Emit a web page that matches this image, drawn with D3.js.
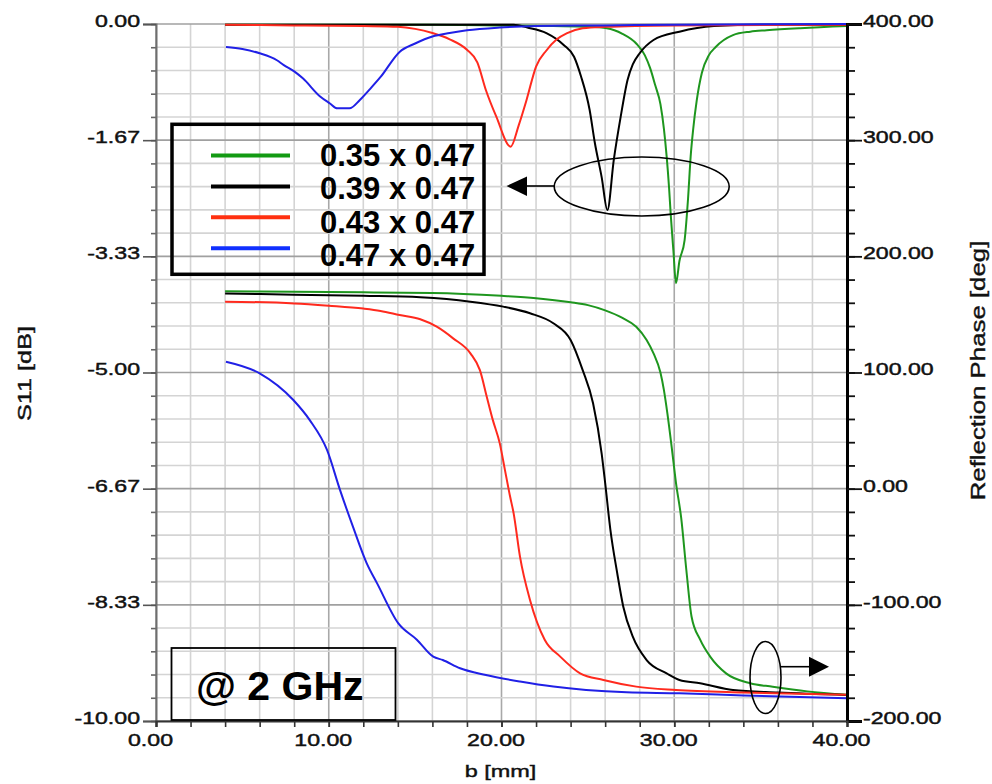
<!DOCTYPE html>
<html>
<head>
<meta charset="utf-8">
<script src="https://cdn.jsdelivr.net/npm/d3@7"></script>
<style>
  html, body { margin: 0; padding: 0; background: #fff; }
  svg { display: block; font-family: "Liberation Sans", Arial, sans-serif; }
</style>
</head>
<body>
<svg id="chart" width="992" height="784"></svg>
<script>
// Reflection magnitude (dB) versus b (mm), one array per patch size
const s11Green = [[4,-0.01],[8,-0.01],[12,-0.01],[16,-0.01],[20,-0.02],[23,-0.03],[25,-0.04],[26.1,-0.06],[27.0,-0.14],[27.8,-0.28],[28.3,-0.45],[28.6,-0.63],[28.9,-0.88],[29.2,-1.15],[29.4,-1.5],[29.56,-1.9],[29.7,-2.35],[29.8,-2.75],[29.95,-3.25],[30.1,-3.72],[30.3,-3.4],[30.6,-3.1],[30.8,-2.5],[30.95,-1.9],[31.1,-1.5],[31.3,-1.1],[31.6,-0.7],[32.0,-0.45],[32.4,-0.33],[33.4,-0.16],[34.4,-0.11],[35.35,-0.09],[37.3,-0.06],[40,-0.03]];
const s11Black = [[4,-0.01],[10,-0.01],[16,-0.01],[20.7,-0.01],[21.5,-0.05],[22.6,-0.13],[23.6,-0.3],[24.2,-0.47],[24.6,-0.75],[25.1,-1.23],[25.4,-1.7],[25.8,-2.2],[26.13,-2.67],[26.5,-1.95],[26.9,-1.33],[27.3,-0.8],[27.6,-0.58],[28.0,-0.42],[28.8,-0.23],[30.3,-0.11],[32.3,-0.03],[35,-0.01],[40,-0.01]];
const s11Red = [[4,-0.01],[8,-0.02],[12,-0.03],[14,-0.04],[15,-0.07],[16,-0.13],[17,-0.22],[18,-0.37],[18.6,-0.55],[19.1,-0.95],[19.7,-1.33],[20.53,-1.76],[21.0,-1.45],[21.45,-1.09],[22.0,-0.61],[22.6,-0.38],[23.2,-0.22],[23.8,-0.13],[24.7,-0.06],[26,-0.04],[30,-0.02],[40,-0.01]];
const s11Blue = [[4.05,-0.33],[5,-0.36],[6,-0.42],[7,-0.52],[7.4,-0.59],[8,-0.68],[8.5,-0.78],[9.5,-1.04],[10.07,-1.14],[10.5,-1.21],[11.2,-1.21],[11.8,-1.09],[12.4,-0.93],[13,-0.76],[14.1,-0.4],[15,-0.28],[16,-0.18],[17,-0.13],[18,-0.09],[19.9,-0.05],[22,-0.03],[26,-0.02],[30,-0.01],[40,0]];

// Reflection phase (deg) versus b (mm)
const phaseGreen = [[4,170],[8,169.5],[12,169],[16,168.5],[20,166],[22,164],[24,160.5],[25,158],[26,153.5],[27,147],[27.8,139.4],[28.4,128],[28.8,116.5],[29.2,100],[29.4,85],[29.6,65],[29.85,36],[30.1,5],[30.4,-25],[30.7,-70],[31.0,-110],[31.5,-130],[32.1,-145],[33.0,-159],[34.4,-167.5],[35.7,-170.5],[37.7,-174.5],[40,-177.5]];
const phaseBlack = [[4,168],[8,167],[12,166],[15.3,164.7],[18.2,161],[20.1,156.7],[21.65,151],[23.0,142.4],[24.0,128],[24.7,102],[25.3,73.5],[25.8,30],[26.0,5],[26.3,-35],[26.7,-72.8],[27.05,-101.6],[27.6,-127.4],[28.4,-147.5],[29.56,-159],[30.3,-164.7],[31.5,-167.5],[33.4,-173.3],[36,-175.5],[40,-177.6]];
const phaseRed = [[4,161],[8,159.5],[10,157.5],[12,155],[13,153],[14.1,149.5],[15.3,145.8],[16.25,139.4],[17.2,129.4],[18.2,116.5],[18.75,102],[19.15,79],[19.5,59],[19.9,39],[20.2,16],[20.5,-7],[20.7,-21],[21.07,-58.5],[21.65,-95.8],[22.5,-130],[23.4,-144.6],[24.55,-159],[25.9,-164.7],[27.8,-170.4],[30.1,-173.3],[34,-175.5],[40,-177.5]];
const phaseBlue = [[4.05,109.3],[6.0,99.3],[7.95,76.3],[8.9,59],[9.9,33.3],[10.65,-1],[11.4,-32.7],[12.2,-64.3],[12.8,-81.5],[14.03,-116],[15.1,-130],[16.05,-144.6],[16.6,-147.5],[17.6,-154.6],[19.1,-160.4],[21.07,-166],[23.0,-170.4],[24.9,-173.3],[27.25,-175.3],[30.3,-176.1],[34,-178],[40,-180.4]];

// Legend entries and axis tick labels
const sizeLabels = ["0.35 x 0.47", "0.39 x 0.47", "0.43 x 0.47", "0.47 x 0.47"];
const xTickLabels = ["0.00", "10.00", "20.00", "30.00", "40.00"];
const leftTickLabels = ["0.00", "-1.67", "-3.33", "-5.00", "-6.67", "-8.33", "-10.00"];
const rightTickLabels = ["400.00", "300.00", "200.00", "100.00", "0.00", "-100.00", "-200.00"];
const frequencyLabel = "@ 2 GHz";

const curveColors = ["#1e961e", "#000000", "#ff2a1e", "#2020e6"];
const legendColors = ["#139a13", "#000000", "#ff3010", "#1030ff"];

const svg = d3.select("#chart");

const x = d3.scaleLinear().domain([0, 40]).range([156, 847]);
const yL = d3.scaleLinear().domain([-10, 0]).range([721, 24]);
const yR = d3.scaleLinear().domain([-200, 400]).range([721, 24]);

// Grid: every 2 mm vertically, five minor steps per labelled interval horizontally
const grid = svg.append("g");
d3.range(0, 41, 2).forEach(v => {
  grid.append("line")
    .attr("x1", x(v)).attr("x2", x(v)).attr("y1", yL(0)).attr("y2", yL(-10))
    .attr("stroke", v % 10 === 0 ? "#a8a8a8" : "#d4d4d4").attr("stroke-width", 1.6);
});
d3.range(31).forEach(i => {
  const v = -i / 3;
  grid.append("line")
    .attr("x1", x(0)).attr("x2", x(40)).attr("y1", yL(v)).attr("y2", yL(v))
    .attr("stroke", i % 5 === 0 ? "#a0a0a0" : "#d4d4d4").attr("stroke-width", 1.6);
});

// Curves
const lineL = d3.line().x(d => x(d[0])).y(d => yL(d[1])).curve(d3.curveMonotoneX);
const lineR = d3.line().x(d => x(d[0])).y(d => yR(d[1])).curve(d3.curveMonotoneX);
const phaseSeries = [phaseGreen, phaseBlack, phaseRed, phaseBlue];
const s11Series = [s11Green, s11Black, s11Red, s11Blue];

svg.append("g").selectAll("path").data(phaseSeries).join("path")
  .attr("d", lineR).attr("fill", "none")
  .attr("stroke", (d, i) => curveColors[i]).attr("stroke-width", 2);
svg.append("g").selectAll("path").data(s11Series).join("path")
  .attr("d", lineL).attr("fill", "none")
  .attr("stroke", (d, i) => curveColors[i]).attr("stroke-width", 2);

// Axes
const tickFont = 17, stretch = 1.36;
const leftVals = d3.range(7).map(i => -10 * i / 6);
const rightVals = d3.range(7).map(i => 400 - 100 * i);
const xVals = [0, 10, 20, 30, 40];

const styleLabels = sel => sel
  .attr("font-size", tickFont).attr("font-family", "Liberation Sans, Arial, sans-serif")
  .attr("fill", "#111").attr("stroke", "#111").attr("stroke-width", 0.45);

// minor ticks
svg.append("g").attr("transform", `translate(${x(0)},0)`)
  .call(d3.axisLeft(yL).tickValues(d3.range(31).map(i => -i / 3)).tickSize(5).tickFormat(""))
  .call(g => g.select(".domain").remove())
  .call(g => g.selectAll("line").attr("stroke", "#666").attr("stroke-width", 1.6));
svg.append("g").attr("transform", `translate(${x(40)},0)`)
  .call(d3.axisRight(yR).tickValues(d3.range(31).map(i => 400 - 20 * i)).tickSize(8).tickFormat(""))
  .call(g => g.select(".domain").remove())
  .call(g => g.selectAll("line").attr("stroke", "#111").attr("stroke-width", 1.8));
svg.append("g").attr("transform", `translate(0,${yL(-10)})`)
  .call(d3.axisBottom(x).tickValues(d3.range(0, 41, 2)).tickSize(6).tickFormat(""))
  .call(g => g.select(".domain").remove())
  .call(g => g.selectAll("line").attr("stroke", "#333").attr("stroke-width", 1.6));

// labelled axes
const leftAxis = svg.append("g").attr("transform", `translate(${x(0)},0)`)
  .call(d3.axisLeft(yL).tickValues(leftVals).tickSize(13).tickFormat((d, i) => leftTickLabels[i]));
leftAxis.select(".domain").attr("stroke", "#6e6e6e").attr("stroke-width", 2);
leftAxis.selectAll("line").attr("stroke", "#555").attr("stroke-width", 1.6);
leftAxis.selectAll("text")
  .attr("x", 0).attr("dy", "0.35em").attr("text-anchor", "end")
  .attr("transform", `translate(-16,-3.5) scale(${stretch},1)`)
  .call(styleLabels);

const rightAxis = svg.append("g").attr("transform", `translate(${x(40)},0)`)
  .call(d3.axisRight(yR).tickValues(rightVals).tickSize(15).tickFormat((d, i) => rightTickLabels[i]));
rightAxis.select(".domain").attr("stroke", "#000").attr("stroke-width", 3);
rightAxis.selectAll("line").attr("stroke", "#111").attr("stroke-width", 1.8);
rightAxis.selectAll("text")
  .attr("x", 0).attr("dy", "0.35em").attr("text-anchor", "start")
  .attr("transform", `translate(16,-3.5) scale(${stretch},1)`)
  .call(styleLabels);

const bottomAxis = svg.append("g").attr("transform", `translate(0,${yL(-10)})`)
  .call(d3.axisBottom(x).tickValues(xVals).tickSize(6).tickFormat((d, i) => xTickLabels[i]));
bottomAxis.select(".domain").attr("stroke", "#333").attr("stroke-width", 2.2);
bottomAxis.selectAll("line").attr("stroke", "#333").attr("stroke-width", 1.6);
bottomAxis.selectAll("text")
  .attr("x", 0).attr("y", 0).attr("dy", "0.35em").attr("text-anchor", "middle")
  .attr("transform", `translate(-6,19.5) scale(${stretch},1)`)
  .call(styleLabels);

// Axis titles
const titleStyle = sel => sel.attr("text-anchor", "middle").attr("fill", "#111")
  .attr("stroke", "#111").attr("stroke-width", 0.4);
svg.append("text")
  .attr("transform", `translate(31,${(yL(0) + yL(-10)) / 2 + 1}) rotate(-90) scale(1.33,1)`)
  .attr("font-size", 19).call(titleStyle)
  .text("S11 [dB]");
svg.append("text")
  .attr("transform", `translate(985,${(yR(400) + yR(-200)) / 2 - 2}) rotate(-90) scale(1.23,1)`)
  .attr("font-size", 21).call(titleStyle)
  .text("Reflection Phase [deg]");
svg.append("text")
  .attr("transform", `translate(${x(20) - 1},777) scale(1.38,1)`)
  .attr("font-size", 17).call(titleStyle)
  .text("b [mm]");

// Legend box
const legend = svg.append("g");
legend.append("rect")
  .attr("x", 172).attr("y", 124.3).attr("width", 312).attr("height", 150)
  .attr("fill", "none").attr("stroke", "#000").attr("stroke-width", 3.5);
sizeLabels.forEach((label, i) => {
  legend.append("line")
    .attr("x1", 211).attr("x2", 290)
    .attr("y1", 155.5 + i * 30.9).attr("y2", 155.5 + i * 30.9)
    .attr("stroke", legendColors[i]).attr("stroke-width", 4);
  legend.append("text")
    .attr("x", 320).attr("y", 165.5 + i * 33.6)
    .attr("font-size", 31).attr("font-weight", "bold").attr("fill", "#000")
    .text(label);
});

// Frequency box
svg.append("rect")
  .attr("x", 171.5).attr("y", 648).attr("width", 224).attr("height", 72)
  .attr("fill", "none").attr("stroke", "#000").attr("stroke-width", 1.8);
svg.append("text")
  .attr("x", 196).attr("y", 700)
  .attr("font-size", 41).attr("font-weight", "bold").attr("fill", "#000")
  .text(frequencyLabel);

// Ellipse callouts with arrows pointing to the relevant axis
const notes = svg.append("g").attr("fill", "none").attr("stroke", "#000").attr("stroke-width", 1.6);
notes.append("ellipse").attr("cx", 641.7).attr("cy", 186.5).attr("rx", 87.5).attr("ry", 29.5);
notes.append("line").attr("x1", 554).attr("x2", 525).attr("y1", 186).attr("y2", 186);
svg.append("path").attr("d", "M506.5,186 L527,176.5 L527,196 Z").attr("fill", "#000");

notes.append("ellipse").attr("cx", 765.5).attr("cy", 677.5).attr("rx", 15.5).attr("ry", 36);
notes.append("line").attr("x1", 781).attr("x2", 811).attr("y1", 666.7).attr("y2", 666.7);
svg.append("path").attr("d", "M829,666.7 L809,656.7 L809,676.7 Z").attr("fill", "#000");
</script>
</body>
</html>
